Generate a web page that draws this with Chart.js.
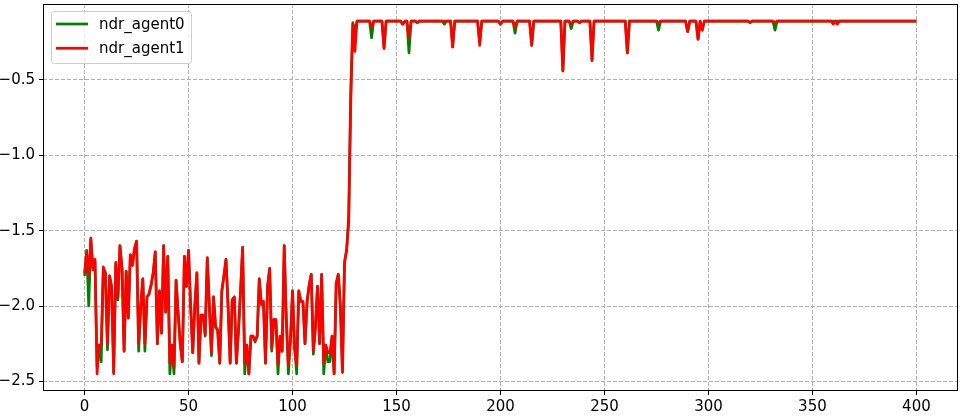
<!DOCTYPE html>
<html>
<head>
<meta charset="utf-8">
<script src="https://cdn.jsdelivr.net/npm/chart.js"></script>
<style>
  html, body { margin: 0; padding: 0; background: #fff; }
  #wrap { width: 964px; height: 420px; }
</style>
</head>
<body>
<div id="wrap"><canvas id="chart" width="964" height="420"></canvas></div>
<script>
// values, one per step (0..400)
const agent0 = [
  -1.80, -1.63, -2.00, -1.56, -1.75, -1.70, -2.40, -2.27, -2.37, -1.75,
  -1.78, -2.29, -1.80, -1.88, -2.44, -1.72, -1.96, -1.60, -1.75, -2.30,
  -1.77, -2.08, -1.66, -1.73, -1.62, -1.57, -2.30, -2.00, -1.82, -2.30,
  -1.94, -1.92, -1.86, -1.78, -1.64, -2.25, -1.90, -2.18, -1.60, -2.04,
  -1.67, -2.45, -2.26, -2.45, -1.83, -2.05, -2.25, -2.37, -1.67, -1.87,
  -1.63, -2.00, -2.31, -2.00, -1.78, -2.38, -2.06, -2.06, -2.20, -1.68,
  -2.00, -2.33, -1.94, -2.14, -2.16, -2.38, -1.90, -1.80, -1.69, -2.00,
  -2.38, -1.96, -1.94, -2.38, -2.16, -1.90, -1.61, -2.45, -2.26, -2.45,
  -2.20, -2.20, -2.24, -2.20, -1.82, -1.99, -1.97, -2.38, -1.87, -1.75,
  -2.30, -2.09, -2.09, -2.45, -2.20, -2.30, -1.60, -2.09, -2.45, -2.23,
  -1.90, -2.28, -2.45, -1.90, -1.97, -1.97, -2.25, -1.97, -1.86, -1.79,
  -2.32, -2.14, -1.87, -2.25, -1.79, -2.45, -2.26, -2.37, -2.37, -2.20,
  -2.45, -1.85, -1.79, -2.00, -2.44, -1.71, -1.63, -1.40, -0.55, -0.12,
  -0.18, -0.11, -0.11, -0.11, -0.11, -0.11, -0.11, -0.11, -0.22, -0.11,
  -0.11, -0.11, -0.11, -0.11, -0.29, -0.11, -0.11, -0.11, -0.11, -0.11,
  -0.11, -0.11, -0.11, -0.13, -0.11, -0.11, -0.32, -0.11, -0.11, -0.11,
  -0.12, -0.11, -0.11, -0.11, -0.11, -0.11, -0.11, -0.11, -0.11, -0.11,
  -0.11, -0.11, -0.11, -0.13, -0.11, -0.11, -0.11, -0.28, -0.11, -0.11,
  -0.11, -0.11, -0.11, -0.11, -0.11, -0.11, -0.11, -0.11, -0.11, -0.11,
  -0.25, -0.11, -0.11, -0.11, -0.11, -0.11, -0.11, -0.11, -0.11, -0.11,
  -0.13, -0.11, -0.11, -0.11, -0.11, -0.11, -0.11, -0.19, -0.11, -0.11,
  -0.11, -0.11, -0.11, -0.11, -0.11, -0.27, -0.11, -0.11, -0.11, -0.11,
  -0.11, -0.11, -0.11, -0.11, -0.11, -0.11, -0.11, -0.11, -0.11, -0.11,
  -0.44, -0.11, -0.11, -0.11, -0.16, -0.11, -0.11, -0.11, -0.12, -0.11,
  -0.11, -0.11, -0.11, -0.11, -0.37, -0.11, -0.11, -0.11, -0.11, -0.11,
  -0.11, -0.11, -0.11, -0.11, -0.11, -0.11, -0.11, -0.11, -0.11, -0.11,
  -0.11, -0.32, -0.11, -0.11, -0.11, -0.11, -0.11, -0.11, -0.11, -0.11,
  -0.11, -0.11, -0.11, -0.11, -0.11, -0.11, -0.17, -0.11, -0.11, -0.11,
  -0.11, -0.11, -0.11, -0.11, -0.11, -0.11, -0.11, -0.11, -0.11, -0.11,
  -0.18, -0.11, -0.11, -0.11, -0.11, -0.23, -0.11, -0.17, -0.11, -0.11,
  -0.11, -0.11, -0.11, -0.11, -0.11, -0.11, -0.11, -0.11, -0.11, -0.11,
  -0.11, -0.11, -0.11, -0.11, -0.11, -0.11, -0.11, -0.11, -0.11, -0.11,
  -0.12, -0.11, -0.11, -0.11, -0.11, -0.11, -0.11, -0.11, -0.11, -0.11,
  -0.11, -0.11, -0.17, -0.11, -0.11, -0.11, -0.11, -0.11, -0.11, -0.11,
  -0.11, -0.11, -0.11, -0.11, -0.11, -0.11, -0.11, -0.11, -0.11, -0.11,
  -0.11, -0.11, -0.11, -0.11, -0.11, -0.11, -0.11, -0.11, -0.11, -0.11,
  -0.11, -0.11, -0.11, -0.11, -0.11, -0.11, -0.11, -0.11, -0.11, -0.11,
  -0.11, -0.11, -0.11, -0.11, -0.11, -0.11, -0.11, -0.11, -0.11, -0.11,
  -0.11, -0.11, -0.11, -0.11, -0.11, -0.11, -0.11, -0.11, -0.11, -0.11,
  -0.11, -0.11, -0.11, -0.11, -0.11, -0.11, -0.11, -0.11, -0.11, -0.11,
  -0.11
];

const agent1 = [
  -1.78, -1.65, -1.80, -1.55, -1.76, -1.69, -2.45, -2.26, -2.26, -1.74,
  -1.78, -2.25, -1.80, -1.87, -2.45, -1.71, -1.94, -1.60, -1.75, -2.30,
  -1.77, -2.08, -1.66, -1.73, -1.62, -1.57, -2.25, -2.00, -1.82, -2.25,
  -1.94, -1.92, -1.86, -1.78, -1.64, -2.25, -1.90, -2.18, -1.60, -2.04,
  -1.67, -2.38, -2.26, -2.41, -1.83, -2.05, -2.25, -2.37, -1.67, -1.87,
  -1.63, -2.00, -2.31, -2.00, -1.78, -2.38, -2.06, -2.06, -2.19, -1.68,
  -2.00, -2.31, -1.94, -2.14, -2.16, -2.38, -1.90, -1.80, -1.69, -2.00,
  -2.38, -1.96, -1.94, -2.38, -2.16, -1.90, -1.61, -2.38, -2.26, -2.45,
  -2.20, -2.20, -2.23, -2.20, -1.82, -1.99, -1.97, -2.38, -1.87, -1.75,
  -2.28, -2.09, -2.09, -2.39, -2.20, -2.30, -1.60, -2.09, -2.39, -2.23,
  -1.90, -2.28, -2.39, -1.90, -1.97, -1.97, -2.25, -1.97, -1.86, -1.79,
  -2.30, -2.14, -1.87, -2.25, -1.79, -2.38, -2.26, -2.31, -2.31, -2.20,
  -2.45, -1.85, -1.79, -2.00, -2.44, -1.71, -1.63, -1.45, -0.65, -0.13,
  -0.31, -0.11, -0.11, -0.11, -0.11, -0.11, -0.11, -0.11, -0.15, -0.11,
  -0.11, -0.11, -0.11, -0.11, -0.29, -0.11, -0.11, -0.11, -0.11, -0.11,
  -0.11, -0.11, -0.11, -0.13, -0.11, -0.11, -0.22, -0.11, -0.11, -0.11,
  -0.12, -0.11, -0.11, -0.11, -0.11, -0.11, -0.11, -0.11, -0.11, -0.11,
  -0.11, -0.11, -0.11, -0.11, -0.11, -0.11, -0.11, -0.28, -0.11, -0.11,
  -0.11, -0.11, -0.11, -0.11, -0.11, -0.11, -0.11, -0.11, -0.11, -0.11,
  -0.27, -0.11, -0.11, -0.11, -0.11, -0.11, -0.11, -0.11, -0.11, -0.11,
  -0.13, -0.11, -0.11, -0.11, -0.11, -0.11, -0.11, -0.15, -0.11, -0.11,
  -0.11, -0.11, -0.11, -0.11, -0.11, -0.27, -0.11, -0.11, -0.11, -0.11,
  -0.11, -0.11, -0.11, -0.11, -0.11, -0.11, -0.11, -0.11, -0.11, -0.11,
  -0.44, -0.11, -0.11, -0.11, -0.13, -0.11, -0.11, -0.11, -0.12, -0.11,
  -0.11, -0.11, -0.11, -0.11, -0.37, -0.11, -0.11, -0.11, -0.11, -0.11,
  -0.11, -0.11, -0.11, -0.11, -0.11, -0.11, -0.11, -0.11, -0.11, -0.11,
  -0.11, -0.32, -0.11, -0.11, -0.11, -0.11, -0.11, -0.11, -0.11, -0.11,
  -0.11, -0.11, -0.11, -0.11, -0.11, -0.11, -0.12, -0.11, -0.11, -0.11,
  -0.11, -0.11, -0.11, -0.11, -0.11, -0.11, -0.11, -0.11, -0.11, -0.11,
  -0.18, -0.11, -0.11, -0.11, -0.11, -0.23, -0.11, -0.17, -0.11, -0.11,
  -0.11, -0.11, -0.11, -0.11, -0.11, -0.11, -0.11, -0.11, -0.11, -0.11,
  -0.11, -0.11, -0.11, -0.11, -0.11, -0.11, -0.11, -0.11, -0.11, -0.11,
  -0.12, -0.11, -0.11, -0.11, -0.11, -0.11, -0.11, -0.11, -0.11, -0.11,
  -0.11, -0.11, -0.12, -0.11, -0.11, -0.11, -0.11, -0.11, -0.11, -0.11,
  -0.11, -0.11, -0.11, -0.11, -0.11, -0.11, -0.11, -0.11, -0.11, -0.11,
  -0.11, -0.11, -0.11, -0.11, -0.11, -0.11, -0.11, -0.11, -0.11, -0.11,
  -0.13, -0.11, -0.13, -0.11, -0.11, -0.11, -0.11, -0.11, -0.11, -0.11,
  -0.11, -0.11, -0.11, -0.11, -0.11, -0.11, -0.11, -0.11, -0.11, -0.11,
  -0.11, -0.11, -0.11, -0.11, -0.11, -0.11, -0.11, -0.11, -0.11, -0.11,
  -0.11, -0.11, -0.11, -0.11, -0.11, -0.11, -0.11, -0.11, -0.11, -0.11,
  -0.11
];

const seriesNames = ["ndr_agent0", "ndr_agent1"];
const xTicks = [0, 50, 100, 150, 200, 250, 300, 350, 400];
const yTicks = [-2.5, -2.0, -1.5, -1.0, -0.5];

const FONT = { family: "'DejaVu Sans', sans-serif", size: 15 };
const GRID = "#b0b0b0";

// matplotlib-style frame around the plot + legend box inside it
const frameAndLegend = {
  id: "frameAndLegend",
  afterDraw(chart) {
    const { ctx, chartArea: a } = chart;
    ctx.save();
    ctx.strokeStyle = "#000";
    ctx.lineWidth = 1;
    ctx.strokeRect(Math.round(a.left) + 0.5, Math.round(a.top) + 0.5,
      Math.round(a.right - a.left) - 1, Math.round(a.bottom - a.top) - 1);

    // legend
    const bx = 51.5, by = 11.5, bw = 140, bh = 52, r = 3;
    ctx.beginPath();
    ctx.moveTo(bx + r, by);
    ctx.arcTo(bx + bw, by, bx + bw, by + bh, r);
    ctx.arcTo(bx + bw, by + bh, bx, by + bh, r);
    ctx.arcTo(bx, by + bh, bx, by, r);
    ctx.arcTo(bx, by, bx + bw, by, r);
    ctx.closePath();
    ctx.fillStyle = "rgba(255,255,255,0.8)";
    ctx.fill();
    ctx.strokeStyle = "#cccccc";
    ctx.stroke();

    ctx.font = FONT.size + "px " + FONT.family;
    ctx.textBaseline = "middle";
    ctx.textAlign = "left";
    chart.data.datasets.forEach((ds, i) => {
      const y = 24 + i * 24.3;
      ctx.strokeStyle = ds.borderColor;
      ctx.lineWidth = ds.borderWidth;
      ctx.beginPath();
      ctx.moveTo(56, y);
      ctx.lineTo(88, y);
      ctx.stroke();
      ctx.fillStyle = "#000";
      ctx.fillText(ds.label, 99, y + 1);
    });
    ctx.restore();
  }
};

// drop the label-overflow padding Chart.js adds so the plot box is fixed
function noPad(s) {
  s.paddingTop = 0;
  s.paddingBottom = 0;
  s.paddingLeft = 0;
  s.paddingRight = 0;
}

new Chart(document.getElementById("chart"), {
  type: "line",
  data: {
    datasets: [
      {
        label: seriesNames[0],
        data: agent0.map((v, i) => ({ x: i, y: v })),
        borderColor: "#008000",
        borderWidth: 2.7,
        borderJoinStyle: "round",
        pointRadius: 0,
        tension: 0,
        order: 1
      },
      {
        label: seriesNames[1],
        data: agent1.map((v, i) => ({ x: i, y: v })),
        borderColor: "#ff0000",
        borderWidth: 2.7,
        borderJoinStyle: "round",
        pointRadius: 0,
        tension: 0,
        order: 0
      }
    ]
  },
  options: {
    responsive: false,
    animation: false,
    layout: { padding: { top: 4, right: 6, left: 0, bottom: 0 } },
    plugins: {
      legend: { display: false },
      tooltip: { enabled: false }
    },
    scales: {
      x: {
        type: "linear",
        min: -20,
        max: 420,
        afterBuildTicks: (s) => { s.ticks = xTicks.map(v => ({ value: v })); },
        afterFit: (s) => { s.height = 29; noPad(s); },
        ticks: {
          color: "#000",
          font: FONT,
          padding: 3,
          maxRotation: 0,
          callback: (v) => String(v)
        },
        grid: { color: GRID, tickColor: "#000", tickLength: 4, tickWidth: 1 },
        border: { display: false, dash: [4, 2] }
      },
      y: {
        type: "linear",
        min: -2.564,
        max: 0.004,
        afterBuildTicks: (s) => { s.ticks = yTicks.map(v => ({ value: v })); },
        afterFit: (s) => { s.width = 43; noPad(s); },
        ticks: {
          color: "#000",
          font: FONT,
          padding: 4,
          callback: (v) => v.toFixed(1).replace("-", "\u2212")
        },
        grid: { color: GRID, tickColor: "#000", tickLength: 4, tickWidth: 1 },
        border: { display: false, dash: [4, 2] }
      }
    }
  },
  plugins: [frameAndLegend]
});
</script>
</body>
</html>
